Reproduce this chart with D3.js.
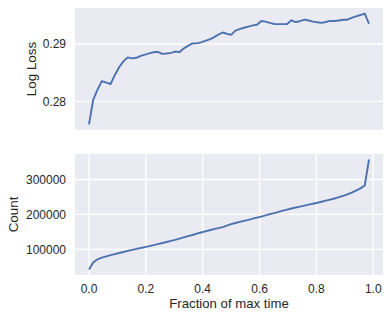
<!DOCTYPE html>
<html>
<head>
<meta charset="utf-8">
<script src="https://cdn.jsdelivr.net/npm/d3@7"></script>
<style>
  body { margin: 0; background: #fff; }
  text { font-family: "Liberation Sans", Arial, sans-serif; fill: #262626; }
</style>
</head>
<body>
<div id="chart"></div>
<script>
// Fraction of max time (shared x for both panels)
const fraction = [0, .015, .030, .045, .061, .076, .091, .106, .121, .136,
  .152, .167, .182, .197, .212, .227, .242, .258, .273, .288,
  .303, .318, .333, .348, .364, .379, .394, .409, .424, .439,
  .455, .470, .485, .500, .515, .530, .545, .561, .576, .591,
  .606, .621, .636, .652, .667, .682, .697, .712, .727, .742,
  .758, .773, .788, .803, .818, .833, .848, .864, .879, .894,
  .909, .924, .939, .955, .970, .985];

// Top panel: log loss
const logLoss = [0.27597, 0.28032, 0.28205, 0.28352, 0.28326, 0.28303, 0.28461, 0.28595, 0.28697, 0.28767,
  0.28750, 0.28760, 0.28793, 0.28814, 0.28837, 0.28856, 0.28865, 0.28828, 0.28835, 0.28846,
  0.28869, 0.28858, 0.28921, 0.28968, 0.29012, 0.29012, 0.29028, 0.29054, 0.29081, 0.29117,
  0.29163, 0.29201, 0.29180, 0.29161, 0.29235, 0.29259, 0.29284, 0.29305, 0.29326, 0.29336,
  0.29403, 0.29391, 0.29370, 0.29350, 0.29348, 0.29348, 0.29350, 0.29415, 0.29384, 0.29398,
  0.29427, 0.29410, 0.29391, 0.29380, 0.29370, 0.29385, 0.29405, 0.29403, 0.29410, 0.29424,
  0.29424, 0.29455, 0.29483, 0.29506, 0.29532, 0.29354];

// Bottom panel: count
const counts = [42300, 62400, 71500, 76400, 80100, 83300, 86400, 89600, 92400, 95600,
  98400, 101300, 103900, 106400, 109100, 112200, 115000, 118200, 121000, 124200,
  127300, 130800, 134200, 137600, 141100, 144800, 148200, 151400, 154500, 157700,
  160800, 163700, 167700, 172000, 175400, 178500, 181400, 184500, 187700, 190800,
  193800, 197100, 200600, 203700, 207200, 210600, 213700, 216900, 219700, 222300,
  225200, 228000, 230600, 233200, 236300, 239500, 242300, 245500, 249200, 253200,
  257200, 262100, 268100, 274400, 282700, 357100];

const xTicks = [0, 0.2, 0.4, 0.6, 0.8, 1.0];
const lossTicks = [0.28, 0.29];
const countTicks = [100000, 200000, 300000];

const width = 392, height = 321;
const left = 75, right = 383;
const topPanel = { y0: 8, y1: 130 };
const botPanel = { y0: 154, y1: 275 };

const bg = "#EAEAF2", lineColor = "#4C72B0";

// pad a domain by 5% like matplotlib does
function padded(arr) {
  const [lo, hi] = d3.extent(arr);
  const m = (hi - lo) * 0.05;
  return [lo - m, hi + m];
}

const x = d3.scaleLinear().domain(padded(fraction)).range([left, right]);

const svg = d3.select("#chart").append("svg")
  .attr("width", width)
  .attr("height", height);

function panel(p, values, yTicks, fmt, label, labelX, vGrid) {
  const y = d3.scaleLinear().domain(padded(values)).range([p.y1, p.y0]);
  const g = svg.append("g");

  g.append("rect")
    .attr("x", left).attr("y", p.y0)
    .attr("width", right - left).attr("height", p.y1 - p.y0)
    .attr("fill", bg);

  // horizontal grid
  g.selectAll(".hgrid").data(yTicks).enter().append("line")
    .attr("x1", left).attr("x2", right)
    .attr("y1", d => y(d)).attr("y2", d => y(d))
    .attr("stroke", "#fff").attr("stroke-width", 1.4);

  if (vGrid) {
    g.selectAll(".vgrid").data(xTicks).enter().append("line")
      .attr("y1", p.y0).attr("y2", p.y1)
      .attr("x1", d => x(d)).attr("x2", d => x(d))
      .attr("stroke", "#fff").attr("stroke-width", 1.4);
  }

  // y tick labels
  g.selectAll(".ylab").data(yTicks).enter().append("text")
    .attr("x", left - 9)
    .attr("y", d => y(d))
    .attr("dy", "0.35em")
    .attr("text-anchor", "end")
    .attr("font-size", "12px")
    .text(fmt);

  // y axis label
  g.append("text")
    .attr("transform", `translate(${labelX},${(p.y0 + p.y1) / 2}) rotate(-90)`)
    .attr("text-anchor", "middle")
    .attr("font-size", "13.4px")
    .text(label);

  // the line
  const line = d3.line().x((d, i) => x(fraction[i])).y(d => y(d));
  g.append("path")
    .datum(values)
    .attr("fill", "none")
    .attr("stroke", lineColor)
    .attr("stroke-width", 1.9)
    .attr("stroke-linejoin", "round")
    .attr("d", line);
}

panel(topPanel, logLoss, lossTicks, d3.format(".2f"), "Log Loss", 36.3, false);
panel(botPanel, counts, countTicks, d3.format("d"), "Count", 18, true);

// x tick labels on bottom panel
svg.selectAll(".xlab").data(xTicks).enter().append("text")
  .attr("x", d => x(d))
  .attr("y", 292.5)
  .attr("text-anchor", "middle")
  .attr("font-size", "12px")
  .text(d3.format(".1f"));

svg.append("text")
  .attr("x", (left + right) / 2)
  .attr("y", 307.5)
  .attr("text-anchor", "middle")
  .attr("font-size", "13.2px")
  .text("Fraction of max time");
</script>
</body>
</html>
